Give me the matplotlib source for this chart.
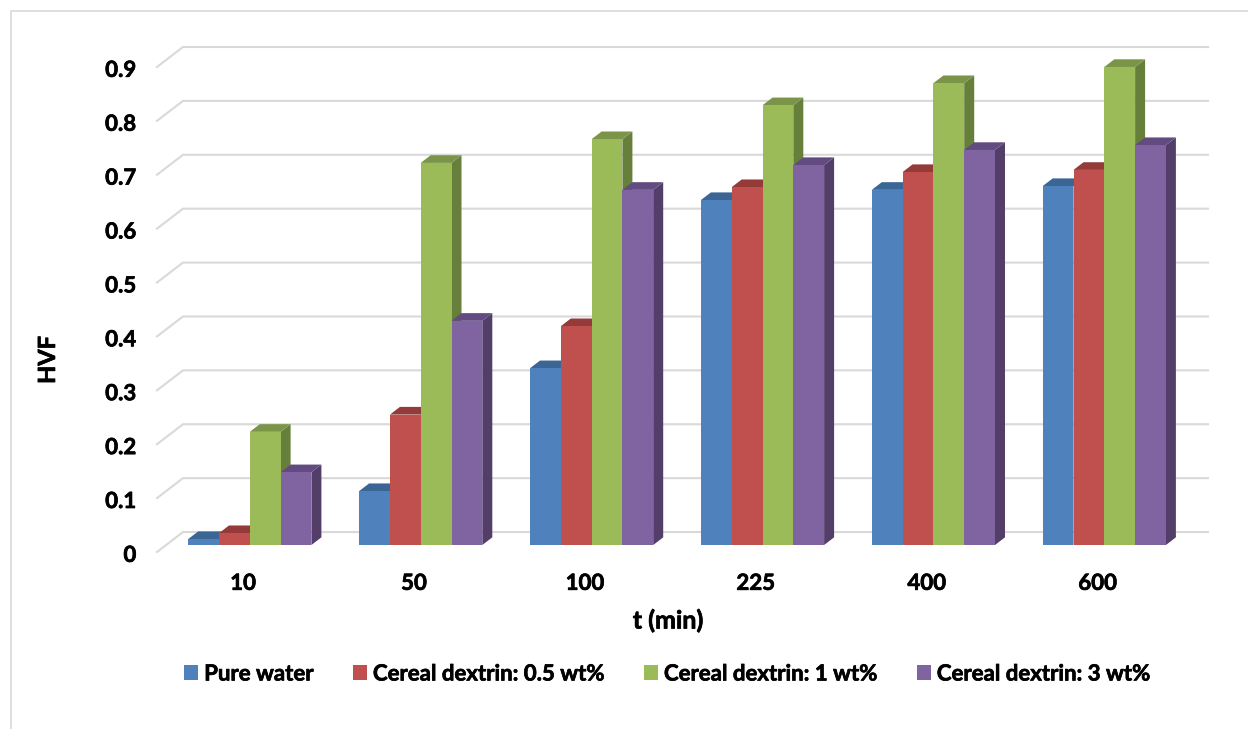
import matplotlib
matplotlib.use('Agg')
import matplotlib.pyplot as plt
import matplotlib.patheffects as pe
from matplotlib.lines import Line2D
from matplotlib.patches import Polygon
from matplotlib.transforms import ScaledTranslation

plt.rcParams['font.family'] = ['Lato', 'DejaVu Sans']
plt.rcParams['font.weight'] = 'bold'

# values
times = ['10', '50', '100', '225', '400', '600']
pure_water = [0.011, 0.100, 0.328, 0.640, 0.659, 0.666]
dextrin_05 = [0.022, 0.242, 0.406, 0.664, 0.692, 0.696]
dextrin_1 = [0.210, 0.709, 0.753, 0.816, 0.857, 0.887]
dextrin_3 = [0.135, 0.416, 0.659, 0.705, 0.733, 0.742]
y_ticks = [0, 0.1, 0.2, 0.3, 0.4, 0.5, 0.6, 0.7, 0.8, 0.9]
y_tick_labels = ['0', '0.1', '0.2', '0.3', '0.4', '0.5', '0.6', '0.7', '0.8', '0.9']

series = [pure_water, dextrin_05, dextrin_1, dextrin_3]
names = ['Pure water', 'Cereal dextrin: 0.5 wt%', 'Cereal dextrin: 1 wt%', 'Cereal dextrin: 3 wt%']
front = ['#4F81BD', '#C0504D', '#9BBB59', '#8064A2']
top = ['#3A6595', '#943A38', '#7A9547', '#624B80']
side = ['#345A85', '#803331', '#667F3A', '#523E69']

W, H = 1248, 729
# axes box in pixels
left, right, bottom, upper = 157, 1208, 552, 47
px_x = 1 / 170.9    # group spacing in px
px_y = 0.1 / 54     # 0.1 on the y axis is 54 px

fig = plt.figure(figsize=(W / 100, H / 100), dpi=100)
ax = fig.add_axes([left / W, 1 - bottom / H, (right - left) / W, (bottom - upper) / H])
x_min = (left - 243) * px_x
x_max = (right - 243) * px_x
ax.set_xlim(x_min, x_max)
ax.set_ylim(0, 0.9 + 20 * px_y)

# wall and floor grid, 3d look
for v in y_ticks:
    ax.plot([x_min, x_min + 26 * px_x, x_max], [v, v + 20 * px_y, v + 20 * px_y],
            color='#d9d9d9', lw=1.5, zorder=1, clip_on=False, solid_joinstyle='miter')

bar_w = 30.8 * px_x
dx = 10 * px_x
dy = 7.7 * px_y
base = 7 * px_y
first = -54.8 * px_x

handles = []
for s, vals in enumerate(series):
    xs = [i + first + s * bar_w + bar_w / 2 for i in range(len(times))]
    for x, v in zip(xs, vals):
        x0, x1 = x - bar_w / 2, x + bar_w / 2
        y0, y1 = base, base + v
        ax.add_patch(Polygon([(x1, y0), (x1 + dx, y0 + dy), (x1 + dx, y1 + dy), (x1, y1)],
                             fc=side[s], ec='none', zorder=2 + s * 3))
        ax.add_patch(Polygon([(x0, y1), (x1, y1), (x1 + dx, y1 + dy), (x0 + dx, y1 + dy)],
                             fc=top[s], ec='none', zorder=2 + s * 3))
    bars = ax.bar(xs, vals, bar_w, bottom=base, color=front[s], label=names[s], zorder=3 + s * 3)
    handles.append(bars)

ax.set_xticks(range(len(times)))
ax.set_xticklabels(times, fontsize=16)
ax.set_yticks(y_ticks)
ax.set_yticklabels(y_tick_labels, fontsize=16)
ax.tick_params(axis='both', length=0)
ax.tick_params(axis='x', pad=15)
ax.tick_params(axis='y', pad=15)
for sp in ax.spines.values():
    sp.set_visible(False)

# y labels sit a little lower than the tick position
nudge = ScaledTranslation(0, -1 / 72, fig.dpi_scale_trans)
for lab in ax.get_yticklabels():
    lab.set_transform(lab.get_transform() + nudge)

ax.set_xlabel('t (min)', fontsize=18, fontweight='bold')
ax.xaxis.set_label_coords((668 - left) / (right - left), -(622 - bottom - 13) / (bottom - upper))
ax.set_ylabel('HVF', fontsize=17, fontweight='bold')
ax.yaxis.set_label_coords((48 - left + 11) / (right - left), (bottom - 360) / (bottom - upper))

leg = fig.legend(handles=handles, labels=names, loc='center', bbox_to_anchor=(667.5 / W, 1 - 674 / H),
                 ncol=4, frameon=False, fontsize=16, handlelength=0.63, handleheight=0.63,
                 handletextpad=0.27, columnspacing=1.75)

# the reference lettering is heavier than Lato Bold, thicken it a bit
thick = [pe.withStroke(linewidth=0.5, foreground='black')]
texts = ax.get_xticklabels() + ax.get_yticklabels() + leg.get_texts() + [ax.xaxis.label, ax.yaxis.label]
for t in texts:
    t.set_path_effects(thick)

# chart area border, only left and top are inside the crop
fig.add_artist(Line2D([11 / W, 11 / W, 1], [0, 1 - 10.5 / H, 1 - 10.5 / H], color='#d9d9d9', lw=1.2))

fig.savefig('out.png', dpi=100)
